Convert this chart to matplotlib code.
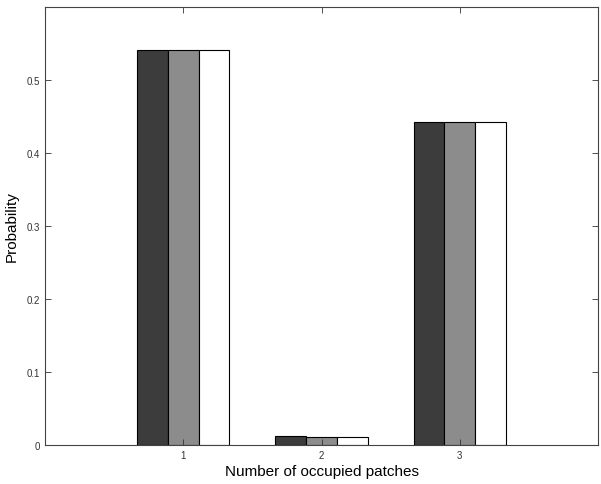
import numpy as np
import matplotlib.pyplot as plt

plt.rcParams['font.family'] = ['Liberation Sans', 'DejaVu Sans']

# number of occupied patches and the three series
patches = [1, 2, 3]
series_a = [0.541, 0.012, 0.442]
series_b = [0.541, 0.011, 0.442]
series_c = [0.541, 0.011, 0.442]
colours = ['#3c3c3c', '#8c8c8c', '#ffffff']

fig = plt.figure(figsize=(6.01, 4.85), dpi=100)
ax = fig.add_axes([0.075, 0.080, 0.920, 0.904])

x = np.array(patches)
n = 3
group_w = min(0.8, n / (n + 1.5))
w = group_w / n
for k, vals in enumerate([series_a, series_b, series_c]):
    offs = (k - (n - 1) / 2) * w
    ax.bar(x + offs, vals, width=w, color=colours[k], edgecolor='black',
           linewidth=0.8)

ax.set_xlim(0, 4)
ax.set_ylim(0, 0.6)
ax.set_xticks(patches)
ax.set_yticks([0, 0.1, 0.2, 0.3, 0.4, 0.5])
ax.set_yticklabels(['0', '0.1', '0.2', '0.3', '0.4', '0.5'])
ax.tick_params(direction='in', top=True, right=True, labelsize=7, length=4,
               width=0.6, colors='#333333')
for s in ax.spines.values():
    s.set_linewidth(0.8)
    s.set_color('#444444')

ax.set_xlabel('Number of occupied patches', fontsize=11, labelpad=3)
ax.set_ylabel('Probability', fontsize=11, labelpad=6)

fig.savefig('out.png', dpi=100)
